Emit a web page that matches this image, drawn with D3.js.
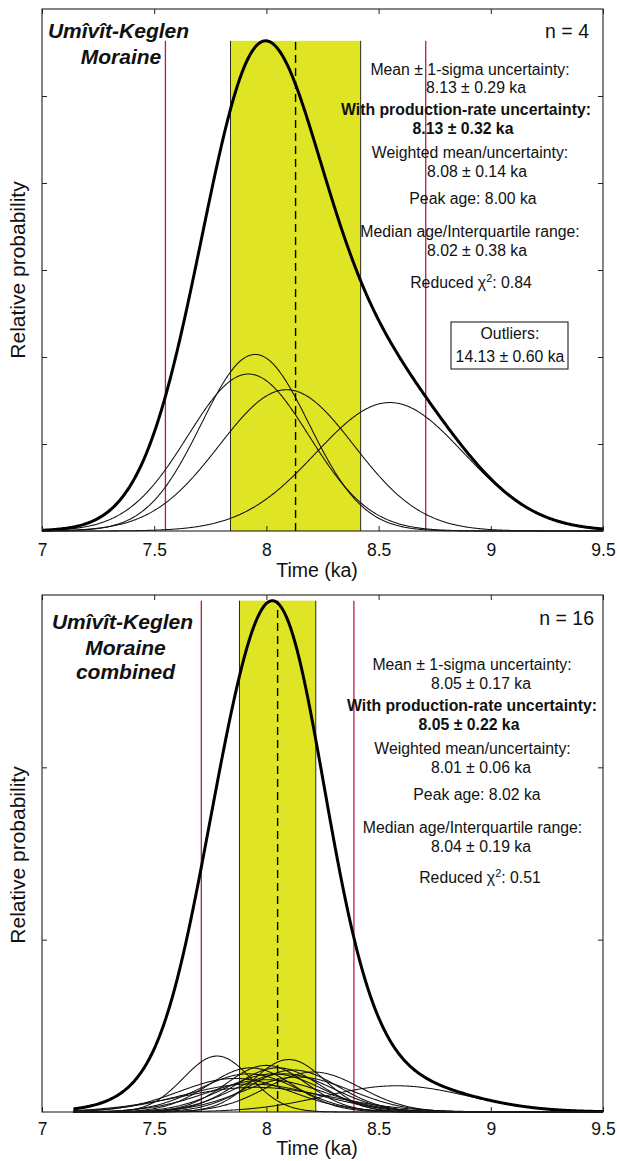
<!DOCTYPE html>
<html><head><meta charset="utf-8">
<script src="https://cdn.jsdelivr.net/npm/d3@7"></script>
<style>body{margin:0;background:#fff}</style>
</head><body><svg id="c" width="617" height="1161" xmlns="http://www.w3.org/2000/svg"></svg>
<script>
// ---------------- DATA ----------------
const xTickLabels = [7, 7.5, 8, 8.5, 9, 9.5];
const xDomain = [7, 9.5];

// Top panel: individual exposure ages (ka) and 1-sigma uncertainties
const topAges = [7.95, 7.92, 8.09, 8.55];
const topErrs = [0.24, 0.27, 0.30, 0.33];
const topMean = 8.13, topSigma = 0.29;
const topTitle = ["Umîvît-Keglen", "Moraine"];
const topN = "n = 4";
const topStatLines = ["Mean ± 1-sigma uncertainty:", "8.13 ± 0.29 ka",
  "With production-rate uncertainty:", "8.13 ± 0.32 ka",
  "Weighted mean/uncertainty:", "8.08 ± 0.14 ka",
  "Peak age: 8.00 ka",
  "Median age/Interquartile range:", "8.02 ± 0.38 ka",
  "Reduced χ^2: 0.84"];
const topOutlierLines = ["Outliers:", "14.13 ± 0.60 ka"];

// Bottom panel: combined ages (ka) and 1-sigma uncertainties
const bottomAges = [7.78, 8.10, 8.58, 8.21, 7.93, 8.00, 8.05, 8.12, 7.92, 8.03, 8.08, 7.86, 8.14, 8.00, 7.93, 7.95];
const bottomErrs = [0.15, 0.16, 0.32, 0.21, 0.19, 0.18, 0.19, 0.20, 0.22, 0.22, 0.22, 0.25, 0.24, 0.26, 0.30, 0.34];
const bottomMean = 8.05, bottomSigma = 0.17;
const bottomTitle = ["Umîvît-Keglen", "Moraine", "combined"];
const bottomN = "n = 16";
const bottomStatLines = ["Mean ± 1-sigma uncertainty:", "8.05 ± 0.17 ka",
  "With production-rate uncertainty:", "8.05 ± 0.22 ka",
  "Weighted mean/uncertainty:", "8.01 ± 0.06 ka",
  "Peak age: 8.02 ka",
  "Median age/Interquartile range:", "8.04 ± 0.19 ka",
  "Reduced χ^2: 0.51"];

const yLabel = "Relative probability";
const xLabel = "Time (ka)";

// ---------------- LAYOUT / STYLE ----------------
const X0 = 42, X1 = 603;
const boldLines = [2, 3];
const FONT = "'Liberation Sans', Arial, Helvetica, sans-serif";
const panels = [
  {ages: topAges, errs: topErrs, mean: topMean, sigma: topSigma, title: topTitle, n: topN,
   stats: topStatLines, outliers: topOutlierLines,
   y0: 9, y1: 531, peakFrac: 0.939, yDiv: 6, xStart: 7.0,
   titleX: [118.5, 121], titleY: [37.5, 64], nX: 589, nY: 37.5,
   statX: [470, 476, 466, 463, 470, 477, 473, 470, 477, 471],
   statY: [74.5, 93, 115, 134, 158, 177, 204, 236.5, 255.5, 288],
   box: {x: 451, y: 322, w: 117, h: 47, tx: 510, ty: [338.5, 362]},
   tickPad: 13, xLabY: 577, yLabC: 270},
  {ages: bottomAges, errs: bottomErrs, mean: bottomMean, sigma: bottomSigma, title: bottomTitle, n: bottomN,
   stats: bottomStatLines, outliers: null,
   y0: 595, y1: 1112, peakFrac: 0.989, yDiv: 3, xStart: 7.14,
   titleX: [122.5, 125.5, 125.5], titleY: [629, 655, 679], nX: 594, nY: 625,
   statX: [472, 481, 472, 469, 472.5, 481, 477, 472.5, 481, 480],
   statY: [670, 689, 711, 729.5, 754, 773, 800, 833, 852, 882.5],
   box: null,
   tickPad: 11, xLabY: 1155, yLabC: 855}
];

const svg = d3.select("#c");
svg.append("rect").attr("width", 617).attr("height", 1161).attr("fill", "#fff");

function pdf(x, mu, s) {
  const z = (x - mu) / s;
  return Math.exp(-0.5 * z * z) / (s * Math.sqrt(2 * Math.PI));
}

panels.forEach(p => {
  const g = svg.append("g");
  const xs = d3.range(p.xStart, 9.5 + 1e-9, 0.004);
  const indiv = p.ages.map((a, i) => xs.map(x => [x, pdf(x, a, p.errs[i])]));
  const sum = xs.map((x, k) => [x, d3.sum(indiv, c => c[k][1])]);
  const peak = d3.max(sum, d => d[1]);
  const yMax = peak / p.peakFrac;

  const x = d3.scaleLinear().domain(xDomain).range([X0, X1]);
  const y = d3.scaleLinear().domain([0, yMax]).range([p.y1, p.y0]);
  const line = d3.line().x(d => x(d[0])).y(d => y(d[1]));

  // yellow 1-sigma band
  g.append("rect")
    .attr("x", x(p.mean - p.sigma)).attr("y", y(peak))
    .attr("width", x(p.mean + p.sigma) - x(p.mean - p.sigma))
    .attr("height", y(0) - y(peak))
    .attr("fill", "#dfe424");
  [p.mean - p.sigma, p.mean + p.sigma].forEach(v => {
    g.append("line").attr("x1", x(v)).attr("x2", x(v)).attr("y1", y(0)).attr("y2", y(peak))
      .attr("stroke", "#2a2a1a").attr("stroke-width", 1);
  });
  // red 2-sigma lines
  [p.mean - 2 * p.sigma, p.mean + 2 * p.sigma].forEach(v => {
    g.append("line").attr("x1", x(v)).attr("x2", x(v)).attr("y1", y(0)).attr("y2", y(peak))
      .attr("stroke", "#b41e46").attr("stroke-width", 1.3);
  });
  // individual curves
  indiv.forEach(c => {
    g.append("path").datum(c).attr("d", line).attr("fill", "none")
      .attr("stroke", "#111").attr("stroke-width", 1.05);
  });
  // dashed mean line
  g.append("line").attr("x1", x(p.mean)).attr("x2", x(p.mean)).attr("y1", y(0)).attr("y2", y(peak))
    .attr("stroke", "#000").attr("stroke-width", 1.4).attr("stroke-dasharray", "8,5");
  // summed curve
  g.append("path").datum(sum).attr("d", line).attr("fill", "none")
    .attr("stroke", "#000").attr("stroke-width", 3);

  // axes (ticks inward)
  const yTicks = d3.range(1, p.yDiv).map(i => i * yMax / p.yDiv);
  const axB = g.append("g").attr("transform", `translate(0,${p.y1})`)
    .call(d3.axisBottom(x).tickValues(xTickLabels).tickSize(-5).tickPadding(p.tickPad).tickFormat(d3.format("")));
  axB.selectAll("text").attr("font-size", 17.5).attr("font-family", FONT).attr("fill", "#111");
  g.append("g").attr("transform", `translate(0,${p.y0})`)
    .call(d3.axisTop(x).tickValues(xTickLabels).tickSize(-5).tickFormat(""));
  g.append("g").attr("transform", `translate(${X0},0)`)
    .call(d3.axisLeft(y).tickValues(yTicks).tickSize(-5).tickFormat(""));
  g.append("g").attr("transform", `translate(${X1},0)`)
    .call(d3.axisRight(y).tickValues(yTicks).tickSize(-5).tickFormat(""));
  g.selectAll(".domain").remove();
  g.selectAll(".tick line").attr("stroke", "#222");
  g.append("rect").attr("x", X0).attr("y", p.y0).attr("width", X1 - X0).attr("height", p.y1 - p.y0)
    .attr("fill", "none").attr("stroke", "#222").attr("stroke-width", 1.1);

  // axis labels
  g.append("text").attr("x", 317).attr("y", p.xLabY).attr("text-anchor", "middle")
    .attr("font-family", FONT).attr("font-size", 19.5).attr("fill", "#111").text(xLabel);
  g.append("text").attr("transform", `translate(25,${p.yLabC}) rotate(-90)`).attr("text-anchor", "middle")
    .attr("font-family", FONT).attr("font-size", 21).attr("fill", "#111").text(yLabel);

  // title
  p.title.forEach((t, i) => {
    g.append("text").attr("x", p.titleX[i]).attr("y", p.titleY[i]).attr("text-anchor", "middle")
      .attr("font-family", FONT).attr("font-size", 21).attr("font-weight", "bold").attr("font-style", "italic")
      .attr("fill", "#111").text(t);
  });
  g.append("text").attr("x", p.nX).attr("y", p.nY).attr("text-anchor", "end")
    .attr("font-family", FONT).attr("font-size", 19.5).attr("fill", "#111").text(p.n);

  // stats
  p.stats.forEach((t, i) => {
    const tx = g.append("text").attr("x", p.statX[i]).attr("y", p.statY[i]).attr("text-anchor", "middle")
      .attr("font-family", FONT).attr("font-size", 15.8).attr("fill", "#111")
      .attr("font-weight", boldLines.includes(i) ? "bold" : "normal");
    if (t.includes("^")) {
      const [pre, rest] = t.split("^");
      tx.append("tspan").text(pre);
      tx.append("tspan").attr("dy", -6).attr("font-size", 11).text(rest.charAt(0));
      tx.append("tspan").attr("dy", 6).text(rest.slice(1));
    } else tx.text(t);
  });
  if (p.outliers) {
    g.append("rect").attr("x", p.box.x).attr("y", p.box.y).attr("width", p.box.w).attr("height", p.box.h)
      .attr("fill", "#fff").attr("stroke", "#222").attr("stroke-width", 1.1);
    p.outliers.forEach((t, i) => {
      g.append("text").attr("x", p.box.tx).attr("y", p.box.ty[i]).attr("text-anchor", "middle")
        .attr("font-family", FONT).attr("font-size", 15.8).attr("fill", "#111").text(t);
    });
  }
});
</script></body></html>
